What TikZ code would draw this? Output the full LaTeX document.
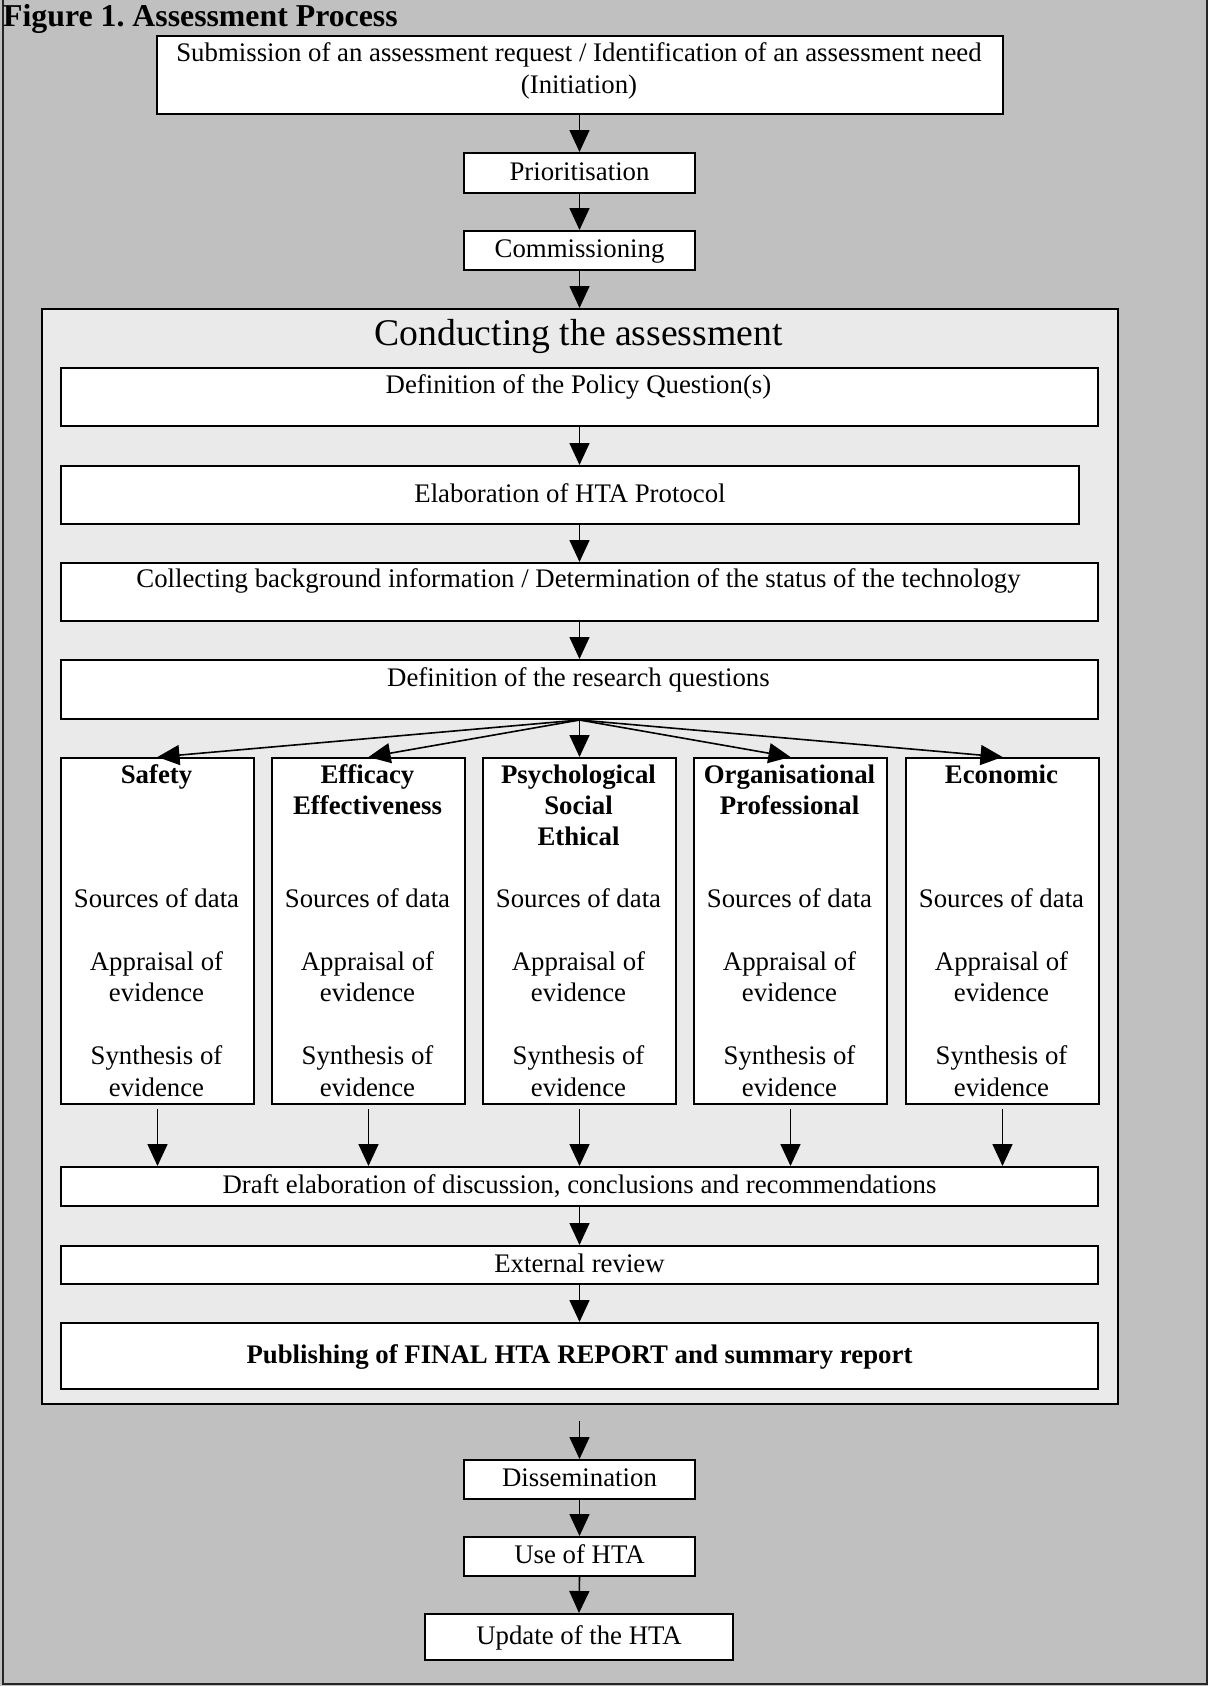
\documentclass[tikz,border=0pt]{standalone}
\usepackage{fontspec}
\setmainfont{Liberation Serif}
\usetikzlibrary{arrows.meta}
\definecolor{outergray}{RGB}{192,192,192}
\definecolor{innergray}{RGB}{234,234,234}
\frenchspacing
\begin{document}
\begin{tikzpicture}[x=1pt,y=-1pt,
  box/.style={draw=black, line width=2pt, fill=white, inner sep=0pt, anchor=north west,
    font=\fontsize{26.8}{31}\selectfont, text height=19pt, text depth=5pt},
  txt/.style={font=\fontsize{26.8}{31}\selectfont, inner sep=0pt, anchor=base},
  btxt/.style={font=\fontsize{26.8}{31}\selectfont\bfseries, inner sep=0pt, anchor=base},
  arr/.style={line width=1.6pt, -{Triangle[length=22pt,width=20pt]}},
  wide/.style={box, minimum width=1037pt},
  small/.style={box, minimum width=231pt, minimum height=39pt},
  col/.style={box, minimum width=193pt, minimum height=346pt}
]
\useasboundingbox (0,0) rectangle (1208,1686);
\fill[outergray] (0,0) rectangle (1208,1686);
\draw[line width=1.5pt, black!85] (3,-3) -- (3,1684) -- (1207,1684) -- (1207,-3);

\node[anchor=base west, inner sep=0pt, font=\fontsize{31.8}{36}\selectfont\bfseries] (title) at (3,27) {Figure 1. Assessment Process};

% top part
\node[box, minimum width=846pt, minimum height=78pt] (init) at (156,35) {};
\node[txt] (init-t1) at (579,62) {Submission of an assessment request / Identification of an assessment need};
\node[txt] (init-t2) at (579,93) {(Initiation)};
\node[small, minimum height=40pt] (prio) at (463,152) {Prioritisation};
\node[small] (comm) at (463,230) {Commissioning};

% conducting the assessment
\node[box, fill=innergray, minimum width=1076pt, minimum height=1095pt] (cond) at (41,308) {};
\node[anchor=base, inner sep=0pt, font=\fontsize{37.7}{44}\selectfont] (cond-t) at (578.5,345) {Conducting the assessment};

\node[wide, minimum height=58pt] (policy) at (60,367) {};
\node[txt] (policy-t) at (578.5,393) {Definition of the Policy Question(s)};
\node[box, minimum width=1018pt, minimum height=58pt] (elab) at (60,465) {Elaboration of HTA Protocol};
\node[wide, minimum height=58pt] (coll) at (60,562) {};
\node[txt] (coll-t) at (578.5,587) {Collecting background information / Determination of the status of the technology};
\node[wide, minimum height=59pt] (research) at (60,659) {};
\node[txt] (research-t) at (578.5,686) {Definition of the research questions};

% columns
\node[col] (c1) at (60,757) {};
\node[col] (c2) at (271,757) {};
\node[col] (c3) at (482,757) {};
\node[col] (c4) at (693,757) {};
\node[col] (c5) at (905,757) {};

\node[btxt] (c1-h1) at (156.5,783) {Safety};
\node[btxt] (c2-h1) at (367.5,783) {Efficacy};
\node[btxt] (c2-h2) at (367.5,814) {Effectiveness};
\node[btxt] (c3-h1) at (578.5,783) {Psychological};
\node[btxt] (c3-h2) at (578.5,814) {Social};
\node[btxt] (c3-h3) at (578.5,845) {Ethical};
\node[btxt] (c4-h1) at (789.5,783) {Organisational};
\node[btxt] (c4-h2) at (789.5,814) {Professional};
\node[btxt] (c5-h1) at (1001.5,783) {Economic};

\foreach \n/\cx in {c1/156.5,c2/367.5,c3/578.5,c4/789.5,c5/1001.5}{
  \node[txt] (\n-s) at (\cx,907) {Sources of data};
  \node[txt] (\n-a1) at (\cx,970) {Appraisal of};
  \node[txt] (\n-a2) at (\cx,1001) {evidence};
  \node[txt] (\n-y1) at (\cx,1064) {Synthesis of};
  \node[txt] (\n-y2) at (\cx,1096) {evidence};
}

\node[wide, minimum height=39pt] (draft) at (60,1166) {Draft elaboration of discussion, conclusions and recommendations};
\node[wide, minimum height=38pt] (ext) at (60,1245) {External review};
\node[wide, minimum height=66pt, font=\fontsize{26.8}{31}\selectfont\bfseries] (pub) at (60,1322) {Publishing of FINAL HTA REPORT and summary report};

% bottom part
\node[small] (diss) at (463,1459) {Dissemination};
\node[small] (use) at (463,1536) {Use of HTA};
\node[box, minimum width=308pt, minimum height=46pt] (upd) at (424,1613) {Update of the HTA};

% connectors
\draw[arr] (prio.north |- init.south) -- (prio.north);
\draw[arr] (prio.south) -- (comm.north);
\draw[arr] (comm.south) -- (comm.south |- cond.north);
\draw[arr] (policy.south) -- (policy.south |- elab.north);
\draw[arr] (policy.south |- elab.south) -- (coll.north);
\draw[arr] (coll.south) -- (research.north);
\foreach \n in {c1,c2,c3,c4,c5}{
  \draw[arr] (research.south) -- (\n.north);
  \draw[arr] ([yshift=-4pt]\n.south) -- (\n.south |- draft.north);
}
\draw[arr] (draft.south) -- (ext.north);
\draw[arr] (ext.south) -- (pub.north);
\draw[arr] ([yshift=-16pt]diss.north |- cond.south) -- (diss.north);
\draw[arr] (diss.south) -- (use.north);
\draw[arr] (use.south) -- (upd.north);
\end{tikzpicture}
\end{document}
